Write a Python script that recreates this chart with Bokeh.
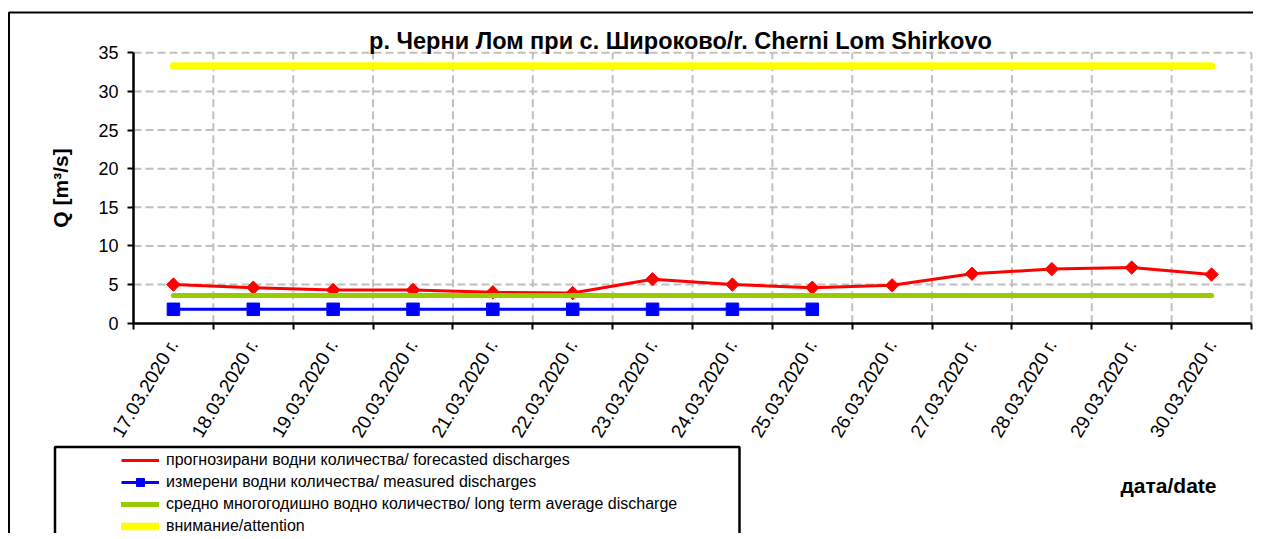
import math
from bokeh.plotting import figure
from bokeh.models import (FixedTicker, CustomJSTickFormatter, Legend, LegendItem,
                          Label, Range1d)
from bokeh.embed import file_html
from bokeh.resources import INLINE

# ---------------- data ----------------
dates = ["17.03.2020 г.", "18.03.2020 г.", "19.03.2020 г.", "20.03.2020 г.",
         "21.03.2020 г.", "22.03.2020 г.", "23.03.2020 г.", "24.03.2020 г.",
         "25.03.2020 г.", "26.03.2020 г.", "27.03.2020 г.", "28.03.2020 г.",
         "29.03.2020 г.", "30.03.2020 г."]
forecast = [5.0, 4.6, 4.3, 4.3, 4.0, 3.9, 5.7, 5.0, 4.6, 4.9, 6.4, 7.0, 7.2, 6.3]
measured = [1.8, 1.8, 1.8, 1.8, 1.8, 1.8, 1.8, 1.8, 1.8]
long_term = [3.6, 3.6, 3.6, 3.6, 3.6, 3.6, 3.6, 3.6, 3.6, 3.6, 3.6, 3.6, 3.6, 3.6]
attention = [33.3, 33.3, 33.3, 33.3, 33.3, 33.3, 33.3, 33.3, 33.3, 33.3, 33.3, 33.3, 33.3, 33.3]
y_ticks = [0, 5, 10, 15, 20, 25, 30, 35]
y_max = 35

title_text = "р. Черни Лом при с. Широково/r. Cherni Lom Shirkovo"
y_label = "Q [m³/s]"
x_label = "дата/date"
legend_labels = ["прогнозирани водни количества/ forecasted discharges",
                 "измерени водни количества/ measured discharges",
                 "средно многогодишно водно количество/ long term average discharge",
                 "внимание/attention"]

FONT = "Liberation Sans"
W, H = 1253, 533

# ---------------- layout (pixel positions of the plot area) ----------------
X0PX, X1PX = 133.0, 1251.0       # left / right of plot area
Y0PX, Y1PX = 322.7, 52.3         # value 0 / value y_max
NCAT = len(dates)
XW = (X1PX - X0PX) / NCAT
YH = (Y0PX - Y1PX) / y_max


def dx(px):
    return (px - X0PX) / XW


def dy(py):
    return (Y0PX - py) / YH


xs = [i + 0.5 for i in range(NCAT)]          # category centres
bounds = list(range(NCAT + 1))               # category boundaries

p = figure(width=W, height=H, output_backend="svg", toolbar_location=None,
           x_range=Range1d(dx(0), dx(W)), y_range=Range1d(dy(H), dy(0)),
           min_border=0, title=None)
p.outline_line_color = None
p.background_fill_color = "white"
p.border_fill_color = "white"
p.xgrid.visible = False
p.ygrid.visible = False

# ---------------- axes (fixed inside the full-canvas frame) ----------------
xa = p.xaxis[0]
xa.fixed_location = 0
xa.bounds = (0, NCAT)
xa.ticker = FixedTicker(ticks=xs, minor_ticks=bounds)
xa.formatter = CustomJSTickFormatter(args=dict(labels=dates),
                                     code="return labels[Math.floor(tick)];")
xa.major_tick_line_color = None
xa.major_tick_out = 0
xa.major_tick_in = 0
xa.minor_tick_out = 6
xa.minor_tick_in = 0
xa.minor_tick_line_width = 2
xa.minor_tick_line_color = "black"
xa.axis_line_width = 2.5
xa.axis_line_color = "black"
xa.major_label_orientation = math.radians(59)
xa.major_label_text_font = FONT
xa.major_label_text_font_size = "19px"
xa.major_label_text_color = "black"
xa.major_label_standoff = 12

ya = p.yaxis[0]
ya.fixed_location = 0
ya.bounds = (0, y_max)
ya.ticker = FixedTicker(ticks=y_ticks)
ya.major_tick_out = 6
ya.major_tick_in = 0
ya.minor_tick_line_color = None
ya.major_tick_line_width = 2
ya.major_tick_line_color = "black"
ya.axis_line_width = 2.5
ya.axis_line_color = "black"
ya.major_label_text_font = FONT
ya.major_label_text_font_size = "18px"
ya.major_label_text_color = "black"
ya.major_label_standoff = 9
ya.axis_label = y_label
ya.axis_label_text_font = FONT
ya.axis_label_text_font_size = "21px"
ya.axis_label_text_font_style = "bold"
ya.axis_label_text_color = "black"
ya.axis_label_standoff = 23

# ---------------- grid lines (dashed, limited to the plot area) ----------------
grid_style = dict(line_color="#c0c0c0", line_dash="8 4", line_width=2)
p.segment(x0=bounds[1:], y0=0, x1=bounds[1:], y1=y_max, **grid_style)
p.segment(x0=0, y0=y_ticks[1:], x1=NCAT, y1=y_ticks[1:], **grid_style)

# ---------------- series (Excel order: later drawn on top) ----------------
r_line = p.line(xs, forecast, line_color="#ff0000", line_width=3)
r_pts = p.scatter(xs, forecast, marker="square", angle=math.pi / 4, size=9.5,
                  fill_color="#ff0000", line_color="#ff0000")
r_key = p.scatter(x=[], y=[], marker="diamond", size=14,
                  fill_color="#ff0000", line_color="#ff0000")   # legend key only
b_line = p.line(xs[:len(measured)], measured, line_color="#0000ff", line_width=3)
b_pts = p.scatter(xs[:len(measured)], measured, marker="square", size=12.5,
                  fill_color="#0000ff", line_color="#0000ff")
g_line = p.line(xs, long_term, line_color="#99cc00", line_width=5, line_cap="round")
y_line = p.line(xs, attention, line_color="#ffff00", line_width=7.5, line_cap="round")

# ---------------- title / x label ----------------
p.add_layout(Label(x=dx(680), y=dy(40), text=title_text, text_align="center",
                   text_baseline="middle", text_font=FONT, text_font_size="23.5px",
                   text_font_style="bold", text_color="black"))
p.add_layout(Label(x=dx(1168), y=dy(485), text=x_label, text_align="center",
                   text_baseline="middle", text_font=FONT, text_font_size="21px",
                   text_font_style="bold", text_color="black"))

# ---------------- legend ----------------
legend = Legend(items=[
    LegendItem(label=legend_labels[0], renderers=[r_line, r_key]),
    LegendItem(label=legend_labels[1], renderers=[b_line, b_pts]),
    LegendItem(label=legend_labels[2], renderers=[g_line]),
    LegendItem(label=legend_labels[3], renderers=[y_line]),
], location=(121, H - 450 - 86), border_line_color=None, background_fill_alpha=0,
    padding=0, spacing=2, label_height=20, glyph_height=20, glyph_width=38,
    label_standoff=7, label_text_font=FONT, label_text_font_size="16px",
    label_text_color="black", margin=0)
p.add_layout(legend)

# ---------------- borders (chart area and legend box, open at the cut edges) ----------------
p.line([dx(8.5), dx(8.5), dx(W + 50)], [dy(H + 50), dy(12), dy(12)],
       line_color="black", line_width=2)
p.line([dx(54.5), dx(54.5), dx(739), dx(739)],
       [dy(H + 50), dy(446.5), dy(446.5), dy(H + 50)],
       line_color="black", line_width=2.5)

open("out.html", "w").write(file_html(p, INLINE))
